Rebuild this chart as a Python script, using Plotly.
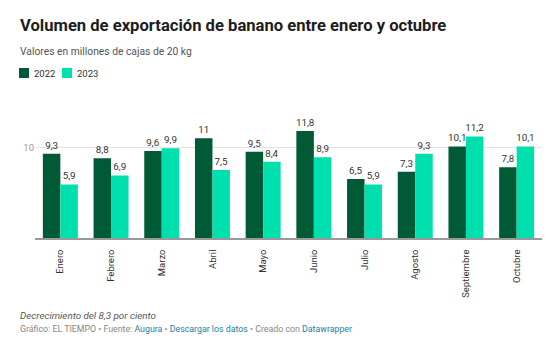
import plotly.graph_objects as go

months = ["Enero", "Febrero", "Marzo", "Abril", "Mayo", "Junio", "Julio", "Agosto", "Septiembre", "Octubre"]
v2022 = [9.3, 8.8, 9.6, 11.0, 9.5, 11.8, 6.5, 7.3, 10.1, 7.8]
v2023 = [5.9, 6.9, 9.9, 7.5, 8.4, 8.9, 5.9, 9.3, 11.2, 10.1]
series_names = ["2022", "2023"]
colors = ["#005a36", "#00dfae"]

W, H = 558, 349
L, R, T, B = 35, 16, 124, 111
PW, PH = W - L - R, H - T - B

def fx(px):
    return (px - L) / PW

def fy(py):
    return (H - B - py) / PH

def fmt(v):
    s = ("%.1f" % v).rstrip("0").rstrip(".")
    return s.replace(".", ",")

FONT = "Roboto, Arial, sans-serif"

fig = go.Figure()
for name, vals, col in zip(series_names, [v2022, v2023], colors):
    fig.add_trace(go.Bar(
        x=months, y=vals, name=name, marker=dict(color=col, line=dict(width=0)),
        text=[fmt(v) for v in vals], textposition="outside", constraintext="none",
        textfont=dict(size=9.8, color="#333333", family=FONT),
        cliponaxis=False, showlegend=False, hoverinfo="skip",
    ))

anns = []
anns.append(dict(text="<b>Volumen de exportación de banano entre enero y octubre</b>",
                 x=fx(18), y=fy(25), xref="paper", yref="paper", xanchor="left", yanchor="middle",
                 showarrow=False, font=dict(size=16.6, color="#1d1d1d", family=FONT)))
anns.append(dict(text="Valores en millones de cajas de 20 kg",
                 x=fx(18), y=fy(51), xref="paper", yref="paper", xanchor="left", yanchor="middle",
                 showarrow=False, font=dict(size=10.3, color="#555555", family=FONT)))
shapes = []
leg = [(19, "2022", colors[0]), (62, "2023", colors[1])]
for x0, t, c in leg:
    shapes.append(dict(type="rect", xref="paper", yref="paper", x0=fx(x0), x1=fx(x0 + 10),
                       y0=fy(78), y1=fy(68), fillcolor=c, line=dict(width=0)))
    anns.append(dict(text=t, x=fx(x0 + 13), y=fy(73), xref="paper", yref="paper",
                     xanchor="left", yanchor="middle", showarrow=False,
                     font=dict(size=9.5, color="#333333", family=FONT)))
anns.append(dict(text="<i>Decrecimiento del 8,3 por ciento</i>",
                 x=fx(18), y=fy(315), xref="paper", yref="paper", xanchor="left", yanchor="middle",
                 showarrow=False, font=dict(size=9.8, color="#555555", family=FONT)))
anns.append(dict(text="Gráfico: EL TIEMPO • Fuente: <span style='color:#1d81a2'>Augura</span> • "
                      "<span style='color:#1d81a2'>Descargar los datos</span> • Creado con "
                      "<span style='color:#1d81a2'>Datawrapper</span>",
                 x=fx(18), y=fy(329), xref="paper", yref="paper", xanchor="left", yanchor="middle",
                 showarrow=False, font=dict(size=8.8, color="#888888", family=FONT)))

fig.update_layout(
    width=W, height=H, margin=dict(l=L, r=R, t=T, b=B),
    paper_bgcolor="white", plot_bgcolor="white",
    barmode="group", bargap=0.31, bargroupgap=0,
    font=dict(family=FONT),
    annotations=anns, shapes=shapes,
)
fig.update_xaxes(tickangle=-90, tickfont=dict(size=9.5, color="#333333", family=FONT),
                 showline=True, linecolor="#999999", linewidth=1.5, ticks="", showgrid=False,
                 ticklabelstandoff=6)
fig.update_yaxes(range=[0, PH / 9.07], tickvals=[10], ticktext=["10"], showgrid=True,
                 gridcolor="#e3e3e3", gridwidth=1, zeroline=False, showline=False,
                 tickfont=dict(size=9.5, color="#999999", family=FONT), ticks="")

fig.write_html("out.html")
